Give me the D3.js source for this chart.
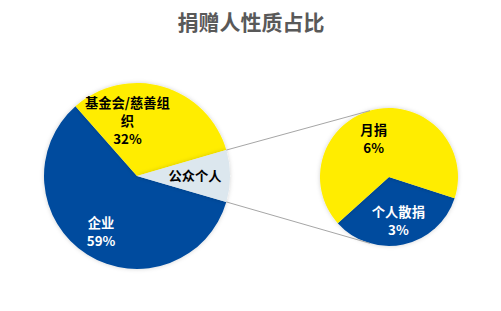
<!DOCTYPE html>
<html><head><meta charset="utf-8">
<script src="https://cdn.jsdelivr.net/npm/d3@7"></script>
<style>body{margin:0;background:#fff}text{font-family:"Noto Sans CJK SC","Noto Sans",sans-serif;font-weight:bold}</style>
</head><body><svg id="c" width="501" height="311"></svg>
<script>
const mainCategories = ["企业", "基金会/慈善组织", "公众个人"];
const mainValues = [59, 32, 9];
const mainColors = ["#004C9E", "#FFED00", "#DCE7EE"];
const subCategories = ["个人散捐", "月捐"];
const subValues = [3, 6];
const subColors = ["#004C9E", "#FFED00"];
const title = "捐赠人性质占比";

const svg = d3.select("#c");
const defs = svg.append("defs");
const f = defs.append("filter").attr("id","sh").attr("x","-20%").attr("y","-20%").attr("width","140%").attr("height","140%");
f.append("feDropShadow").attr("dx",0).attr("dy",0).attr("stdDeviation",2).attr("flood-color","#000").attr("flood-opacity",0.18);

svg.append("text").attr("x",251).attr("y",30).attr("text-anchor","middle")
  .attr("font-size",21).attr("fill","#595959").text(title);

const deg = Math.PI/180;
const c1 = {x:137, y:176, r:93};
const c2 = {x:389, y:177, r:69};

const total = d3.sum(mainValues);
const otherShare = mainValues[2]/total;
const start1 = Math.PI/2 + otherShare*Math.PI;
const pie1 = d3.pie().sort(null).startAngle(start1).endAngle(start1+2*Math.PI);
const arcs1 = pie1(mainValues);
const arc1 = d3.arc().innerRadius(0).outerRadius(c1.r);
const g1 = svg.append("g").attr("transform",`translate(${c1.x},${c1.y})`);
g1.selectAll("path").data(arcs1).enter().append("path")
  .attr("d",arc1).attr("fill",(d,i)=>mainColors[i]).attr("filter","url(#sh)");

const start2 = 108*deg;
const pie2 = d3.pie().sort(null).startAngle(start2).endAngle(start2+2*Math.PI);
const arcs2 = pie2(subValues);
const arc2 = d3.arc().innerRadius(0).outerRadius(c2.r);
const g2 = svg.append("g").attr("transform",`translate(${c2.x},${c2.y})`);
g2.selectAll("path").data(arcs2).enter().append("path")
  .attr("d",arc2).attr("fill",(d,i)=>subColors[i]).attr("filter","url(#sh)");

function pt(c, a){ return [c.x + c.r*Math.sin(a), c.y - c.r*Math.cos(a)]; }
const o = arcs1[2];
const lines = [[pt(c1,o.startAngle), pt(c2,-16*deg)], [pt(c1,o.endAngle), pt(c2,196*deg)]];
svg.selectAll("line.conn").data(lines).enter().append("line").attr("class","conn")
  .attr("x1",d=>d[0][0]).attr("y1",d=>d[0][1]).attr("x2",d=>d[1][0]).attr("y2",d=>d[1][1])
  .attr("stroke","#A6A6A6").attr("stroke-width",1);

function label(g, angle, rad, lines, color){
  const x = rad*Math.sin(angle), y = -rad*Math.cos(angle);
  const t = g.append("text").attr("text-anchor","middle").attr("font-size",13.3).attr("fill",color);
  const n = lines.length, lh = 18;
  lines.forEach((s,i)=>{
    t.append("tspan").attr("x",x).attr("y",y + (i-(n-1)/2)*lh + 4.5).text(s);
  });
}
const pct = v => Math.round(v/total*100) + "%";
const mid = a => (a.startAngle+a.endAngle)/2;
label(g1, mid(arcs1[0]), 67, [mainCategories[0], pct(mainValues[0])], "#fff");
label(g1, 350*deg, 55, ["基金会/慈善组", "织", pct(mainValues[1])], "#000");
label(g1, mid(arcs1[2]), 58, [mainCategories[2]], "#000");
label(g2, mid(arcs2[0]), 45, [subCategories[0], pct(subValues[0])], "#fff");
label(g2, 338*deg, 41, [subCategories[1], pct(subValues[1])], "#000");
</script></body></html>
